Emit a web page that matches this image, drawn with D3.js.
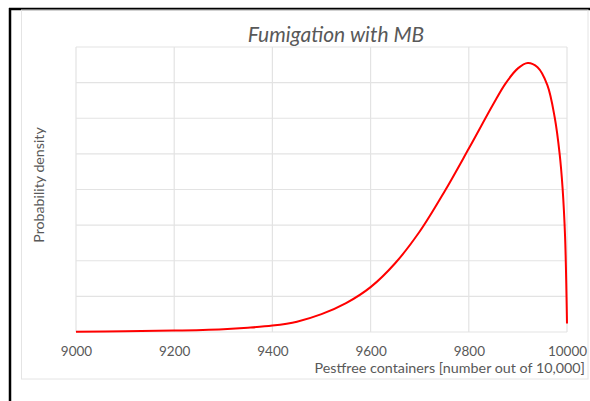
<!DOCTYPE html>
<html><head><meta charset="utf-8">
<script src="https://cdn.jsdelivr.net/npm/d3@7"></script>
<style>
html,body{margin:0;padding:0;background:#fff;}
svg{display:block;}
</style></head>
<body>
<svg id="chart" width="590" height="401"></svg>
<script>
const title = "Fumigation with MB";
const xTitle = "Pestfree containers [number out of 10,000]";
const yTitle = "Probability density";
const xTicks = [9000, 9200, 9400, 9600, 9800, 10000];
const yGrid = [0, 1, 2, 3, 4, 5, 6, 7, 8];
const pestfree = [9000, 9100, 9200, 9300, 9350, 9400, 9450, 9500, 9550, 9600, 9650, 9700, 9750, 9800, 9850, 9875, 9900, 9920, 9940, 9960, 9975, 9985, 9991, 9996, 10000];
const density  = [0.01, 0.02, 0.04, 0.08, 0.12, 0.18, 0.29, 0.50, 0.81, 1.26, 1.93, 2.82, 3.93, 5.15, 6.40, 6.98, 7.40, 7.55, 7.43, 6.93, 6.02, 5.00, 4.04, 2.70, 0.24];

const svg = d3.select("#chart");
const font = "Lato, 'Open Sans', sans-serif";
const L = 76, R = 567, T = 47, B = 332;

// outer black frame (left & top visible)
svg.append("line").attr("x1",10).attr("x2",10).attr("y1",8).attr("y2",401).attr("stroke","#000").attr("stroke-width",2.5);
svg.append("line").attr("x1",9).attr("x2",590).attr("y1",9).attr("y2",9).attr("stroke","#000").attr("stroke-width",2.5);
// chart area border
svg.append("rect").attr("x",21.5).attr("y",10).attr("width",566.5).attr("height",369)
  .attr("fill","none").attr("stroke","#e4e4e4").attr("stroke-width",1);

const x = d3.scaleLinear().domain([9000, 10000]).range([L, R]);
const y = d3.scaleLinear().domain([0, 8]).range([B, T]);

const g = svg.append("g");
g.selectAll(".hg").data(yGrid).join("line")
  .attr("x1", L).attr("x2", R).attr("y1", d => y(d)).attr("y2", d => y(d))
  .attr("stroke", "#e3e3e3").attr("stroke-width", 1.2);
g.selectAll(".vg").data(xTicks).join("line")
  .attr("x1", d => x(d)).attr("x2", d => x(d)).attr("y1", T).attr("y2", B)
  .attr("stroke", "#e3e3e3").attr("stroke-width", 1.2);

const xAxis = d3.axisBottom(x).tickValues(xTicks).tickSize(0).tickPadding(14).tickFormat(d3.format("d"));
const ax = svg.append("g").attr("transform", `translate(0,${B})`).call(xAxis);
ax.select(".domain").remove();
ax.selectAll("text").attr("fill", "#595959").style("font-family", font).style("font-size", "13.5px");

const line = d3.line().x(d => x(d[0])).y(d => y(d[1])).curve(d3.curveCatmullRom.alpha(0.5));
svg.append("path").datum(pestfree.map((p, i) => [p, density[i]]))
  .attr("d", line).attr("fill", "none").attr("stroke", "#ff0000").attr("stroke-width", 2);

svg.append("text").attr("x", 336).attr("y", 42).attr("text-anchor", "middle")
  .attr("fill", "#595959").style("font-family", font).style("font-size", "21px").style("font-style", "italic")
  .text(title);
svg.append("text").attr("x", 585).attr("y", 373).attr("text-anchor", "end")
  .attr("fill", "#595959").style("font-family", font).style("font-size", "14.3px")
  .text(xTitle);
svg.append("text").attr("transform", "translate(44,185) rotate(-90)").attr("text-anchor", "middle")
  .attr("fill", "#595959").style("font-family", font).style("font-size", "14.2px")
  .text(yTitle);
</script>
</body></html>
